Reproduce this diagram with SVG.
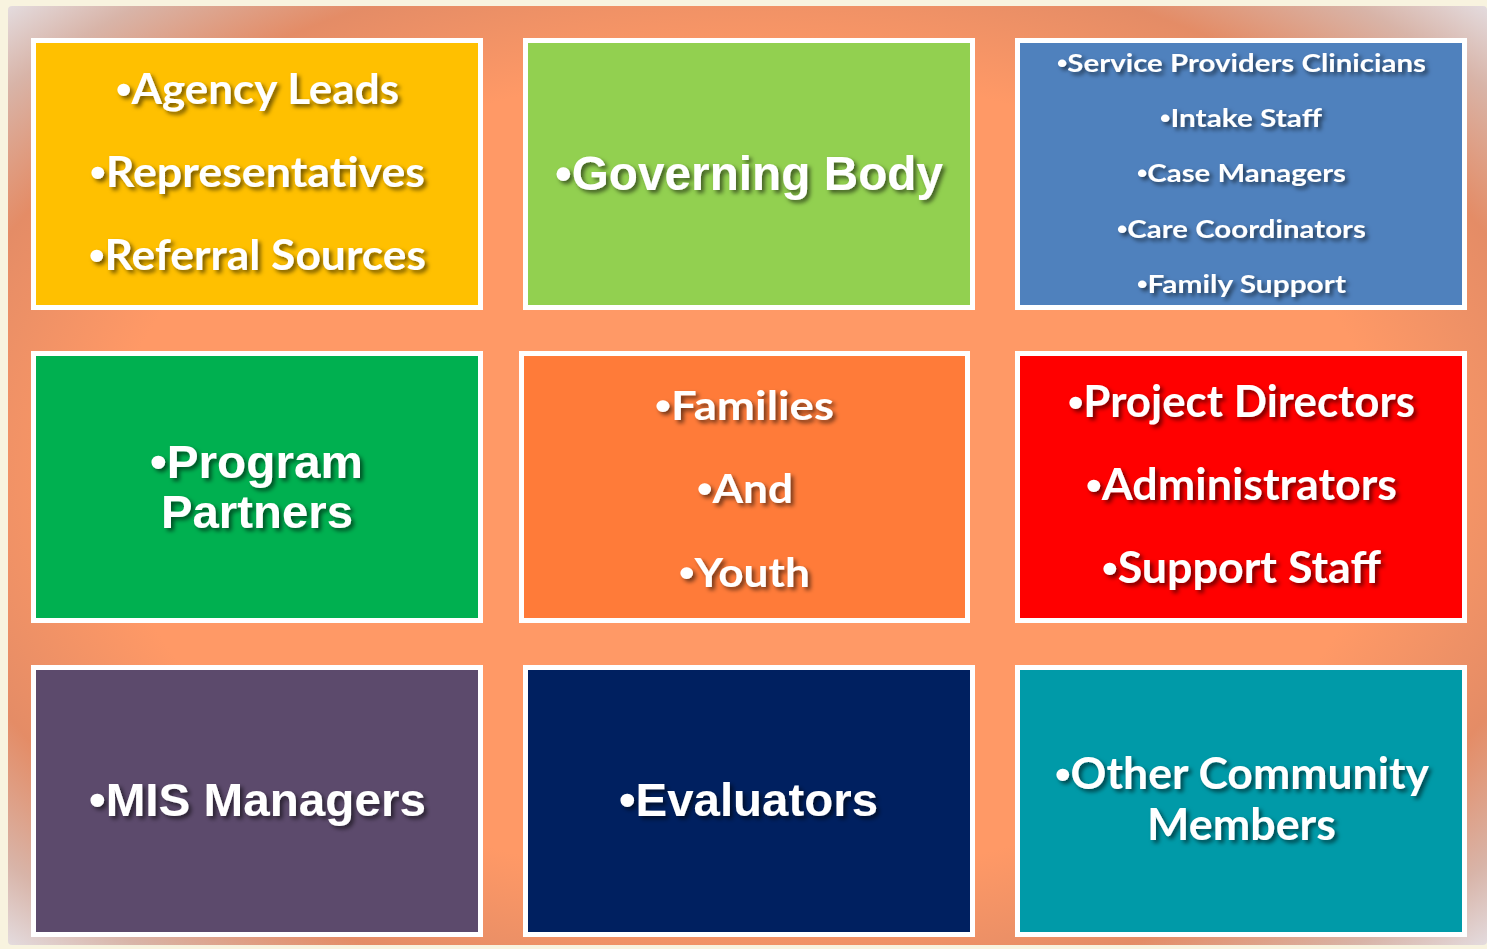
<svg xmlns="http://www.w3.org/2000/svg" width="1487" height="949" viewBox="0 0 1487 949">
<defs>
<radialGradient id="bg" cx="0.5" cy="0.5" r="0.72">
<stop offset="0" stop-color="#ff9966"/>
<stop offset="0.6" stop-color="#ff9966"/>
<stop offset="0.78" stop-color="#e48c66"/>
<stop offset="0.9" stop-color="#d8b4a8"/>
<stop offset="1" stop-color="#e6e4ea"/>
</radialGradient>
<filter id="sh" x="-10%" y="-30%" width="120%" height="160%">
<feDropShadow dx="3" dy="3" stdDeviation="2" flood-color="#000" flood-opacity="0.55"/>
</filter>
<style>
.box{stroke:#ffffff;stroke-width:5}
.c{font-family:Lato,"Open Sans",sans-serif;font-weight:bold;fill:#ffffff;filter:url(#sh)}
.a{font-family:"Liberation Sans",Arial,sans-serif;font-weight:bold;fill:#ffffff;filter:url(#sh)}
.b{font-family:"Liberation Sans",Arial,sans-serif;font-weight:bold}
</style>
</defs>
<rect x="0" y="0" width="1487" height="949" fill="#f8f3df"/>
<rect x="8" y="6" width="1479" height="939" rx="4" fill="url(#bg)"/>

<g id="n1">
<rect class="box" x="33.5" y="40.5" width="447" height="267" fill="#ffc000"/>
<text class="c" x="116" y="104" font-size="42" textLength="283" lengthAdjust="spacingAndGlyphs"><tspan class="b">•</tspan>Agency Leads</text>
<text class="c" x="90" y="187" font-size="42" textLength="335" lengthAdjust="spacingAndGlyphs"><tspan class="b">•</tspan>Representatives</text>
<text class="c" x="89" y="270" font-size="42" textLength="337" lengthAdjust="spacingAndGlyphs"><tspan class="b">•</tspan>Referral Sources</text>
</g>
<g id="n2">
<rect class="box" x="525.5" y="40.5" width="447" height="267" fill="#92d050"/>
<text class="a" x="555" y="190" font-size="48" textLength="388" lengthAdjust="spacingAndGlyphs">•Governing Body</text>
</g>
<g id="n3">
<rect class="box" x="1017.5" y="40.5" width="447" height="267" fill="#4f81bd"/>
<text class="c" x="1057" y="72" font-size="25" textLength="369" lengthAdjust="spacingAndGlyphs"><tspan class="b">•</tspan>Service Providers Clinicians</text>
<text class="c" x="1160" y="127" font-size="25" textLength="162" lengthAdjust="spacingAndGlyphs"><tspan class="b">•</tspan>Intake Staff</text>
<text class="c" x="1137" y="182" font-size="25" textLength="209" lengthAdjust="spacingAndGlyphs"><tspan class="b">•</tspan>Case Managers</text>
<text class="c" x="1117" y="238" font-size="25" textLength="249" lengthAdjust="spacingAndGlyphs"><tspan class="b">•</tspan>Care Coordinators</text>
<text class="c" x="1137" y="293" font-size="25" textLength="209" lengthAdjust="spacingAndGlyphs"><tspan class="b">•</tspan>Family Support</text>
</g>
<g id="n4">
<rect class="box" x="33.5" y="353.5" width="447" height="267" fill="#00b050"/>
<text class="a" x="150" y="478" font-size="47" textLength="213" lengthAdjust="spacingAndGlyphs">•Program</text>
<text class="a" x="161" y="528" font-size="47" textLength="192" lengthAdjust="spacingAndGlyphs">Partners</text>
</g>
<g id="n5">
<rect class="box" x="521.5" y="353.5" width="446" height="267" fill="#ff7b39"/>
<text class="c" x="655" y="420" font-size="41" textLength="179" lengthAdjust="spacingAndGlyphs"><tspan class="b">•</tspan>Families</text>
<text class="c" x="697" y="503" font-size="41" textLength="96" lengthAdjust="spacingAndGlyphs"><tspan class="b">•</tspan>And</text>
<text class="c" x="679" y="587" font-size="41" textLength="131" lengthAdjust="spacingAndGlyphs"><tspan class="b">•</tspan>Youth</text>
</g>
<g id="n6">
<rect class="box" x="1017.5" y="353.5" width="447" height="267" fill="#ff0000"/>
<text class="c" x="1068" y="417" font-size="43" textLength="347" lengthAdjust="spacingAndGlyphs"><tspan class="b">•</tspan>Project Directors</text>
<text class="c" x="1086" y="500" font-size="43" textLength="311" lengthAdjust="spacingAndGlyphs"><tspan class="b">•</tspan>Administrators</text>
<text class="c" x="1102" y="583" font-size="43" textLength="279" lengthAdjust="spacingAndGlyphs"><tspan class="b">•</tspan>Support Staff</text>
</g>
<g id="n7">
<rect class="box" x="33.5" y="667.5" width="447" height="267" fill="#5c4a6c"/>
<text class="a" x="89" y="816" font-size="47" textLength="337" lengthAdjust="spacingAndGlyphs">•MIS Managers</text>
</g>
<g id="n8">
<rect class="box" x="525.5" y="667.5" width="447" height="267" fill="#002060"/>
<text class="a" x="619" y="816" font-size="47" textLength="259" lengthAdjust="spacingAndGlyphs">•Evaluators</text>
</g>
<g id="n9">
<rect class="box" x="1017.5" y="667.5" width="447" height="267" fill="#009aa8"/>
<text class="c" x="1055" y="789" font-size="43" textLength="374" lengthAdjust="spacingAndGlyphs"><tspan class="b">•</tspan>Other Community</text>
<text class="c" x="1147" y="840" font-size="43" textLength="189" lengthAdjust="spacingAndGlyphs">Members</text>
</g>
<g id="connectors"/>
</svg>
